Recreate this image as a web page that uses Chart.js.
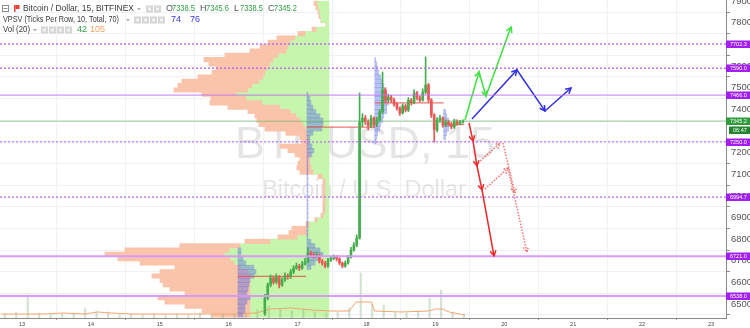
<!DOCTYPE html>
<html>
<head>
<meta charset="utf-8">
<script src="https://cdn.jsdelivr.net/npm/chart.js@4.4.0/dist/chart.umd.min.js"></script>
<style>
  html, body { margin: 0; padding: 0; background: #fff; }
  #chart { display: block; }
</style>
</head>
<body>
<canvas id="chart" width="750" height="328"></canvas>
<script>
const FONT = "'Liberation Sans', Arial, sans-serif";

const dayTicks = [13, 14, 15, 16, 17, 18, 19, 20, 21, 22, 23];
const priceTicks = [6500, 6600, 6700, 6800, 6900, 7000, 7100, 7200, 7300, 7400, 7500, 7600, 7700, 7800, 7900];

const candleStart = 16.525;
const candleStep = 1 / 24;
const firstOpen = 6455;
const closes = [6528, 6589, 6621, 6602, 6626, 6589, 6612, 6630, 6626, 6649,
  6667, 6676, 6667, 6686, 6695, 6736, 6727, 6723, 6727, 6699,
  6690, 6676, 6704, 6713, 6718, 6709, 6690, 6676, 6690, 6718,
  6750, 6773, 6806, 7342, 7360, 7342, 7323, 7360, 7328, 7351,
  7388, 7490, 7443, 7457, 7443, 7425, 7406, 7383, 7416, 7397,
  7443, 7430, 7476, 7453, 7443, 7480, 7513, 7443, 7374, 7305,
  7351, 7360, 7328, 7342, 7333, 7319, 7346, 7333, 7342, 7345.2];
const highs = [6545, 6598, 6635, 6630, 6640, 6632, 6622, 6645, 6640, 6660,
  6678, 6690, 6684, 6698, 6712, 6760, 6745, 6738, 6740, 6732,
  6708, 6698, 6712, 6722, 6728, 6725, 6715, 6695, 6700, 6726,
  6762, 6785, 6820, 7476, 7380, 7372, 7352, 7372, 7366, 7364,
  7400, 7573, 7500, 7470, 7465, 7452, 7432, 7412, 7426, 7424,
  7455, 7450, 7490, 7484, 7462, 7495, 7642, 7520, 7450, 7380,
  7362, 7372, 7366, 7352, 7350, 7340, 7355, 7352, 7350, 7352];
const lows = [6448, 6520, 6580, 6592, 6595, 6575, 6582, 6605, 6615, 6618,
  6640, 6660, 6655, 6660, 6680, 6690, 6718, 6712, 6715, 6690,
  6680, 6668, 6670, 6698, 6705, 6700, 6682, 6668, 6670, 6685,
  6712, 6745, 6765, 6800, 7320, 7330, 7305, 7315, 7318, 7320,
  7345, 7382, 7430, 7435, 7432, 7415, 7396, 7372, 7378, 7388,
  7390, 7420, 7425, 7444, 7434, 7438, 7472, 7432, 7362, 7249,
  7296, 7340, 7318, 7320, 7325, 7310, 7312, 7326, 7328, 7336];

// big volume profile, up (green) / down (salmon) per 20$ row
const profileAnchor = 17.455;
const profileRows = [7890, 7870, 7850, 7830, 7810, 7790, 7770, 7750, 7730, 7710,
  7690, 7670, 7650, 7630, 7610, 7590, 7570, 7550, 7530, 7510,
  7490, 7470, 7450, 7430, 7410, 7390, 7370, 7350, 7330, 7310,
  7290, 7270, 7250, 7230, 7210, 7190, 7170, 7150, 7130, 7110,
  7090, 7070, 7050, 7030, 7010, 6990, 6970, 6950, 6930, 6910,
  6890, 6870, 6850, 6830, 6810, 6790, 6770, 6750, 6730, 6710,
  6690, 6670, 6650, 6630, 6610, 6590, 6570, 6550, 6530, 6510,
  6490, 6470, 6450];
const profileUp = [12, 11, 10, 9, 8, 3, 13, 24, 34, 39,
  41, 43, 51, 56, 59, 62, 64, 66, 70, 77,
  81, 93, 83, 67, 49, 39, 33, 29, 26, 23,
  22, 21, 21, 21, 20, 19, 19, 19, 18, 16,
  7, 4, 4, 4, 4, 4, 4, 4, 4, 6,
  12, 20, 22, 22, 32, 59, 89, 100, 105, 99,
  95, 89, 81, 79, 79, 79, 79, 79, 79, 79,
  79, 79, 79];
const profileDown = [3, 2, 1, 1, 0, 0, 4, 7, 18, 22,
  28, 36, 53, 69, 61, 51, 53, 65, 77, 74,
  74, 34, 35, 52, 52, 42, 41, 43, 44, 41,
  21, 8, 6, 28, 21, 15, 10, 12, 14, 13,
  4, 2, 2, 2, 2, 2, 2, 2, 2, 2,
  2, 3, 15, 18, 19, 25, 60, 104, 119, 112,
  94, 65, 88, 98, 90, 87, 80, 65, 92, 85,
  65, 48, 38];

// per-session profiles
const sessionStarts = [16.135, 17.136, 18.12, 19.12];
const sessionEnds = [17.125, 18.12, 19.12, 19.42];
const sessionPoc = [6628, 7318, 7430, 7330];
const session1Rows = [6750, 6730, 6710, 6690, 6670, 6650, 6630, 6610, 6590, 6570, 6550, 6530, 6510, 6490, 6470, 6450];
const session1Vol = [3, 3, 5, 8, 16, 18, 16, 12, 11, 10, 9, 12, 9, 7, 7, 5];
const session2Rows = [7470, 7450, 7430, 7410, 7390, 7370, 7350, 7330, 7310, 7290,
  7270, 7250, 7230, 7210, 7190, 7170, 7150, 7130, 7110, 7090,
  7070, 7050, 7030, 7010, 6990, 6970, 6950, 6930, 6910, 6890,
  6870, 6850, 6830, 6810, 6790, 6770, 6750, 6730, 6710, 6690, 6670];
const session2Vol = [1, 3, 4, 6, 9, 13, 16, 16, 15, 6,
  3, 3, 5, 7, 5, 1, 1, 1, 1, 1,
  1, 1, 1, 1, 1, 1, 1, 1, 1, 1,
  1, 1, 1, 1, 4, 8, 13, 16, 12, 8, 4];
const session3Rows = [7630, 7610, 7590, 7570, 7550, 7530, 7510, 7490, 7470, 7450,
  7430, 7410, 7390, 7370, 7350, 7330, 7310, 7290, 7270, 7250];
const session3Vol = [1, 2, 3, 4, 6, 7, 9, 10, 12, 12, 14, 12, 12, 9, 8, 6, 5, 3, 2, 1];
const session4Rows = [7390, 7370, 7350, 7330, 7310, 7290, 7270];
const session4Vol = [2, 3, 5, 6, 5, 3, 2];

// volume + MA(20)
const volStart = 12.75;
const volStep = 1 / 6;
const volumes = [40, 60, 230, 50, 30, 40, 50, 100, 70, 60,
  30, 40, 30, 40, 30, 40, 30, 50, 30, 40,
  40, 50, 80, 120, 90, 70, 80, 60, 50, 60,
  100, 450, 140, 130, 60, 50, 70, 200, 280, 60, 40];
const volMaDays = [12.7, 13.0, 13.3, 13.6, 13.9, 14.1, 14.3, 14.6, 15.0, 15.4, 15.8, 16.1, 16.4, 16.6, 16.9,
  17.2, 17.5, 17.75, 17.85, 18.0, 18.07, 18.12, 18.5, 18.9, 19.0, 19.1, 19.2, 19.35, 19.43];
const volMa = [40, 40, 40, 50, 40, 60, 50, 40, 40, 40, 40, 40, 50, 90, 100,
  80, 70, 70, 160, 160, 160, 70, 60, 70, 90, 90, 60, 40, 30];

// drawn projections
const greenDays = [19.43, 19.633, 19.734, 20.097];
const greenPrices = [7351, 7572.8, 7461.9, 7780.7];
const blueDays = [19.531, 20.184, 20.591, 20.968];
const bluePrices = [7355.6, 7582, 7392.6, 7498.9];
const redDays = [19.488, 19.546, 19.604, 19.677, 19.851];
const redPrices = [7337.1, 7253.9, 7138.4, 7027.5, 6722.5];
const redAltDays = [19.619, 19.938, null, 19.981, 20.155, null, 19.72, 20.054, null, 20.054, 20.329];
const redAltPrices = [7152.3, 7244.7, null, 7244.7, 7013.6, null, 7032.1, 7129.1, null, 7129.1, 6741];

// horizontal levels
const dashedLevels = [7702.3, 7590.0, 7250.0, 6994.7];
const solidLevels = [7466.0];
const zoneLevels = [6721.0, 6538.0];
const lastPrice = 7345.2;
const barCountdown = '06:47';

// legend
const titleText = 'Bitcoin / Dollar, 15, BITFINEX';
const ohlcNames = ['O', 'H', 'L', 'C'];
const ohlcValues = [7338.5, 7345.6, 7338.5, 7345.2];
const vpsvText = 'VPSV (Ticks Per Row, 10, Total, 70)';
const vpsvValues = [74, 76];
const volText = 'Vol (20)';
const volValues = [42, 105];

const GREEN = '#45ad4c';
const RED = '#ee5555';
const k = 1 / 68.9; // days per profile unit

const pts = (xs, ys) => xs.map((x, i) => ({ x: x, y: ys[i] }));
const candleTimes = closes.map((c, i) => candleStart + i * candleStep);
const opens = closes.map((c, i) => i === 0 ? firstOpen : closes[i - 1]);
const candleColor = ctx => closes[ctx.dataIndex] >= opens[ctx.dataIndex] ? GREEN : RED;

const sessions = [[session1Rows, session1Vol], [session2Rows, session2Vol], [session3Rows, session3Vol], [session4Rows, session4Vol]];

const datasets = [];

datasets.push({
  type: 'bar', indexAxis: 'y', order: 20, grouped: false, barThickness: 4.4,
  backgroundColor: 'rgb(249,196,170)',
  data: profileRows.map((p, i) => ({ y: p, x: [profileAnchor - (profileUp[i] + profileDown[i]) * k, profileAnchor - profileUp[i] * k] }))
});
datasets.push({
  type: 'bar', indexAxis: 'y', order: 20, grouped: false, barThickness: 4.4,
  backgroundColor: 'rgb(198,245,172)',
  data: profileRows.map((p, i) => ({ y: p, x: [profileAnchor - profileUp[i] * k, profileAnchor] }))
});

datasets.push({
  type: 'bar', yAxisID: 'yv', order: 18, grouped: false, barThickness: 1.5,
  backgroundColor: 'rgba(130,175,130,0.35)',
  data: volumes.map((v, i) => ({ x: volStart + i * volStep, y: v }))
});
datasets.push({
  type: 'line', yAxisID: 'yv', order: 17, data: pts(volMaDays, volMa),
  borderColor: '#f4a66c', borderWidth: 1, pointRadius: 0
});

sessions.forEach((s, j) => {
  datasets.push({
    type: 'bar', indexAxis: 'y', order: 15, grouped: false, barThickness: 4.33,
    backgroundColor: 'rgba(80,100,230,0.4)',
    data: s[0].map((p, i) => ({ y: p, x: [sessionStarts[j], sessionStarts[j] + s[1][i] * k] }))
  });
  datasets.push({
    type: 'line', order: 12, data: [{ x: sessionStarts[j], y: sessionPoc[j] }, { x: sessionEnds[j], y: sessionPoc[j] }],
    borderColor: 'rgba(235,70,70,0.75)', borderWidth: 1.2, pointRadius: 0
  });
});

datasets.push({
  type: 'bar', order: 10, grouped: false, barThickness: 1,
  backgroundColor: candleColor,
  data: candleTimes.map((t, i) => ({ x: t, y: [lows[i], highs[i]] }))
});
datasets.push({
  type: 'bar', order: 9, grouped: false, barThickness: 2, minBarLength: 1,
  backgroundColor: candleColor,
  data: candleTimes.map((t, i) => ({ x: t, y: [opens[i], closes[i]] }))
});

const arrowLine = (days, prices, color, dash) => ({
  type: 'line', order: 5, data: pts(days, prices), arrow: true,
  borderColor: color, borderWidth: 1.5, borderDash: dash, pointRadius: 0, spanGaps: false
});
datasets.push(arrowLine(greenDays, greenPrices, '#3ee23e', []));
datasets.push(arrowLine(blueDays, bluePrices, '#3030e8', []));
datasets.push(arrowLine(redDays, redPrices, '#f02a2a', []));
datasets.push(arrowLine(redAltDays, redAltPrices, 'rgba(245,80,80,0.8)', [1.5, 1.5]));

function arrowHead(ctx, a, b) {
  const ang = Math.atan2(b.y - a.y, b.x - a.x);
  const len = 6;
  ctx.beginPath();
  ctx.moveTo(b.x - len * Math.cos(ang - 0.5), b.y - len * Math.sin(ang - 0.5));
  ctx.lineTo(b.x, b.y);
  ctx.lineTo(b.x - len * Math.cos(ang + 0.5), b.y - len * Math.sin(ang + 0.5));
  ctx.stroke();
}

function badge(ctx, y, text, bg, x, w) {
  ctx.fillStyle = bg;
  ctx.fillRect(x, Math.round(y) - 3.5, w, 7.5);
  ctx.fillStyle = '#fff';
  ctx.font = '5.5px ' + FONT;
  ctx.textAlign = 'left';
  ctx.textBaseline = 'middle';
  ctx.fillText(text, x + 4, Math.round(y) + 0.3);
}

function iconBoxes(ctx, x, y, n) {
  for (let i = 0; i < n; i++) {
    ctx.fillStyle = '#d6d6d6';
    ctx.fillRect(x + i * 8, y - 3.5, 7, 7);
    ctx.fillStyle = '#f4f4f4';
    ctx.fillRect(x + i * 8 + 2, y - 1.5, 3, 3);
  }
}

function caret(ctx, x, y) {
  ctx.fillStyle = '#b0b0b0';
  ctx.beginPath();
  ctx.moveTo(x, y - 1);
  ctx.lineTo(x + 4, y - 1);
  ctx.lineTo(x + 2, y + 1.5);
  ctx.fill();
}

const overlay = {
  id: 'overlay',
  beforeDatasetsDraw(chart) {
    const ctx = chart.ctx;
    ctx.save();
    ctx.fillStyle = 'rgba(0,0,0,0.1)';
    ctx.textAlign = 'center';
    ctx.textBaseline = 'alphabetic';
    ctx.font = '45px ' + FONT;
    ctx.fillText('BTCUSD, 15', 365, 158);
    ctx.font = '23.5px ' + FONT;
    ctx.fillText('Bitcoin / U.S. Dollar', 364, 197);
    ctx.restore();
  },
  afterDatasetsDraw(chart) {
    const ctx = chart.ctx;
    const area = chart.chartArea;
    const ys = chart.scales.y;
    ctx.save();
    ctx.beginPath();
    ctx.rect(area.left, area.top, area.right - area.left, area.bottom - area.top);
    ctx.clip();

    const hline = (v, color, width, dash) => {
      const y = ys.getPixelForValue(v);
      ctx.strokeStyle = color;
      ctx.lineWidth = width;
      ctx.setLineDash(dash);
      ctx.beginPath();
      ctx.moveTo(area.left, y);
      ctx.lineTo(area.right, y);
      ctx.stroke();
    };
    hline(lastPrice, 'rgba(90,180,90,0.6)', 1, []);
    dashedLevels.forEach(v => hline(v, 'rgba(180,90,250,0.85)', 1.4, [2, 2]));
    solidLevels.forEach(v => hline(v, 'rgba(190,110,240,0.9)', 1, []));
    zoneLevels.forEach(v => hline(v, 'rgba(215,150,255,0.95)', 2, []));

    chart.data.datasets.forEach((ds, di) => {
      if (!ds.arrow) return;
      const pts = chart.getDatasetMeta(di).data;
      ctx.strokeStyle = ds.borderColor;
      ctx.lineWidth = ds.borderWidth;
      ctx.setLineDash(ds.borderDash);
      for (let i = 1; i < pts.length; i++) {
        if (pts[i].skip || pts[i - 1].skip) continue;
        arrowHead(ctx, pts[i - 1], pts[i]);
      }
    });
    ctx.restore();
  },
  afterDraw(chart) {
    const ctx = chart.ctx;
    const ys = chart.scales.y;
    const bx = chart.chartArea.right;
    ctx.save();
    dashedLevels.concat(solidLevels, zoneLevels).forEach(v => {
      badge(ctx, ys.getPixelForValue(v), v.toFixed(1), '#a21ff2', bx, 26);
    });
    const yl = ys.getPixelForValue(lastPrice);
    badge(ctx, yl, lastPrice.toFixed(1), '#2f9c3b', bx, 26);
    badge(ctx, yl + 9, barCountdown, '#23862f', bx + 3, 23);

    // legend block, squeezed to the widths seen in the screenshot
    ctx.textAlign = 'left';
    ctx.textBaseline = 'middle';
    ctx.font = '9px ' + FONT;
    ctx.strokeStyle = '#8c8c8c';
    ctx.lineWidth = 1;
    ctx.strokeRect(2.5, 5.5, 6, 6);
    ctx.beginPath();
    ctx.moveTo(3.5, 8.5);
    ctx.lineTo(7.5, 8.5);
    ctx.stroke();
    ctx.fillStyle = '#e8402f';
    ctx.fillRect(14, 5, 1.5, 7);
    ctx.fillRect(15.5, 5, 4, 4);

    ctx.fillStyle = '#3a3a3a';
    ctx.fillText(titleText, 23, 9, 111);
    caret(ctx, 137, 9);
    iconBoxes(ctx, 146, 9, 2);
    const ox = [166, 200, 234, 268];
    ohlcNames.forEach((n, i) => {
      ctx.fillStyle = '#555';
      ctx.fillText(n, ox[i], 9);
      ctx.fillStyle = '#33a047';
      ctx.fillText(ohlcValues[i].toFixed(1), ox[i] + 6, 9, 23);
    });

    ctx.fillStyle = '#3a3a3a';
    ctx.fillText(vpsvText, 3, 20, 116);
    caret(ctx, 126, 20);
    iconBoxes(ctx, 134, 20, 4);
    ctx.fillStyle = '#3535ee';
    ctx.fillText(String(vpsvValues[0]), 171, 20);
    ctx.fillText(String(vpsvValues[1]), 190, 20);

    ctx.fillStyle = '#3a3a3a';
    ctx.fillText(volText, 3, 30, 27);
    caret(ctx, 33, 30);
    iconBoxes(ctx, 41, 30, 4);
    ctx.fillStyle = '#33a047';
    ctx.fillText(String(volValues[0]), 77, 30);
    ctx.fillStyle = '#f5a262';
    ctx.fillText(String(volValues[1]), 90, 30);
    ctx.restore();
  }
};

new Chart(document.getElementById('chart'), {
  type: 'bar',
  data: { datasets: datasets },
  plugins: [overlay],
  options: {
    responsive: false,
    animation: false,
    devicePixelRatio: 1,
    events: [],
    layout: { padding: 0 },
    plugins: { legend: { display: false }, tooltip: { enabled: false } },
    scales: {
      x: {
        type: 'linear', position: 'bottom', min: 12.681, max: 23.218, offset: false,
        afterBuildTicks: s => { s.ticks = dayTicks.map(v => ({ value: v })); },
        afterFit: s => { s.height = 10; s.paddingLeft = 0; s.paddingRight = 0; },
        ticks: { autoSkip: false, maxRotation: 0, padding: 1, color: '#444', font: { size: 5.5, family: FONT }, callback: v => String(v) },
        grid: { color: '#eef1f5', tickLength: 2, tickColor: '#999' },
        border: { color: '#8a8a8a' }
      },
      y: {
        type: 'linear', position: 'right', min: 6436, max: 7905.5, offset: false, beginAtZero: false,
        afterBuildTicks: s => { s.ticks = priceTicks.map(v => ({ value: v })); },
        afterFit: s => { s.width = 24; s.paddingTop = 0; s.paddingBottom = 0; },
        ticks: { padding: 1, color: '#555', font: { size: 9.5, family: FONT }, callback: v => String(v) },
        grid: { color: '#eef1f5', tickLength: 4, tickColor: '#888' },
        border: { color: '#8a8a8a' }
      },
      yv: { type: 'linear', display: false, min: 0, max: 3180, offset: false, beginAtZero: true }
    }
  }
});
</script>
</body>
</html>
